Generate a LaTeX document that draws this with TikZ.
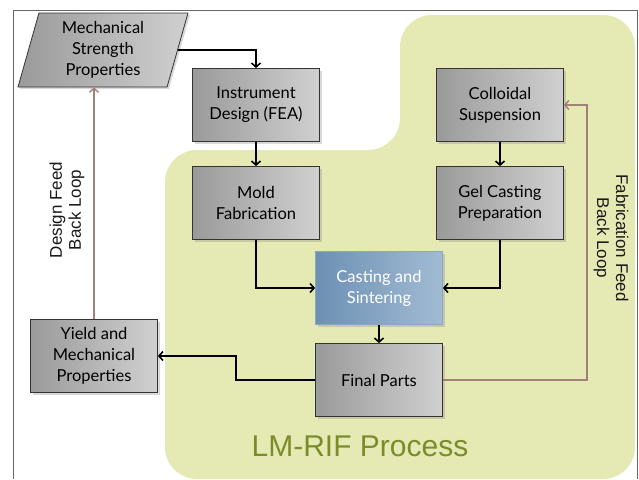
\documentclass[tikz,border=0pt]{standalone}
\usepackage{fontspec}
\setsansfont{Liberation Sans}
\newfontfamily\boxfont{Lato}
\usetikzlibrary{calc,shapes.geometric,shadows,arrows.meta}

\definecolor{regionfill}{HTML}{E5EAB4}
\definecolor{regiontext}{HTML}{7C8C2A}
\definecolor{loopbrown}{HTML}{A08077}
\definecolor{stepdark}{HTML}{9A9A9A}
\definecolor{steplight}{HTML}{D0D0D0}
\definecolor{castdark}{HTML}{6C90B4}
\definecolor{castlight}{HTML}{A2BBD3}

\tikzset{
	stepbox/.style={draw=black!80, line width=0.8pt, left color=stepdark, right color=steplight,
		minimum width=127pt, minimum height=73pt, align=center, text=black,
		font=\boxfont\fontsize{16.5}{21}\selectfont,
		drop shadow={shadow xshift=2pt, shadow yshift=-2pt, opacity=0.3}},
	castbox/.style={stepbox, draw=castdark!80, left color=castdark, right color=castlight, text=white},
	flow/.style={line width=1.6pt, -{Straight Barb[length=4pt,width=9pt]}},
	loop/.style={flow, line width=1.4pt, draw=loopbrown},
	looplabel/.style={font=\sffamily\fontsize{17}{19}\selectfont, align=center, text=black!90}
}

\begin{document}
\begin{tikzpicture}[x=1pt, y=-1pt]
			%%%%% START %%%%%
			\useasboundingbox (0, 0) rectangle (639, 479);
			
			\draw[black!60, line width=0.6pt] (13, 479) -- (13, 10) -- (637, 10) -- (637, 479);
			
			\fill[regionfill, rounded corners=32pt] (400, 15) -- (635, 15) -- (635, 479) -- (165, 479) -- (165, 150) -- (400, 150) -- cycle;
			
			\node[stepbox, trapezium, trapezium stretches=true, trapezium left angle=77, trapezium right angle=103, minimum width=170pt, minimum height=74pt, inner sep=2pt] (mech) at (103, 50) {Mechanical\\Strength\\Properties};
			\node[stepbox] (instr) at (256, 105) {Instrument\\Design (FEA)};
			\node[stepbox] (mold) at (256, 203) {Mold\\Fabrication};
			\node[stepbox] (coll) at (500, 105) {Colloidal\\Suspension};
			\node[stepbox] (gel) at (500, 203) {Gel Casting\\Preparation};
			\node[castbox] (cast) at (379, 288) {Casting and\\Sintering};
			\node[stepbox] (final) at (379, 380) {Final Parts};
			\node[stepbox] (yield) at (94, 356) {Yield and\\Mechanical\\Properties};
			
			\draw[flow] (mech.east) -| (instr.north);
			\draw[flow] (instr) -- (mold);
			\draw[flow] (coll) -- (gel);
			\draw[flow] (mold.south) |- (cast.west);
			\draw[flow] (gel.south) |- (cast.east);
			\draw[flow] (cast) -- (final);
			\draw[flow] (final.west) -- ++(-79, 0) |- (yield.east);
			
			\draw[loop] (yield.north) -- (yield.north |- mech.south);
			\draw[loop] (final.east) -- ++(144, 0) |- (coll.east);
			
			\node[looplabel, rotate=90] (designloop) at (67, 210) {Design Feed\\Back Loop};
			\node[looplabel, rotate=-90] (fabloop) at (611, 238) {Fabrication Feed\\Back Loop};
			
			\node[font=\sffamily\fontsize{30}{32}\selectfont, text=regiontext] (region) at (360, 446) {LM-RIF Process};
			
			%%%%% END %%%%%
		\end{tikzpicture}
\end{document}
